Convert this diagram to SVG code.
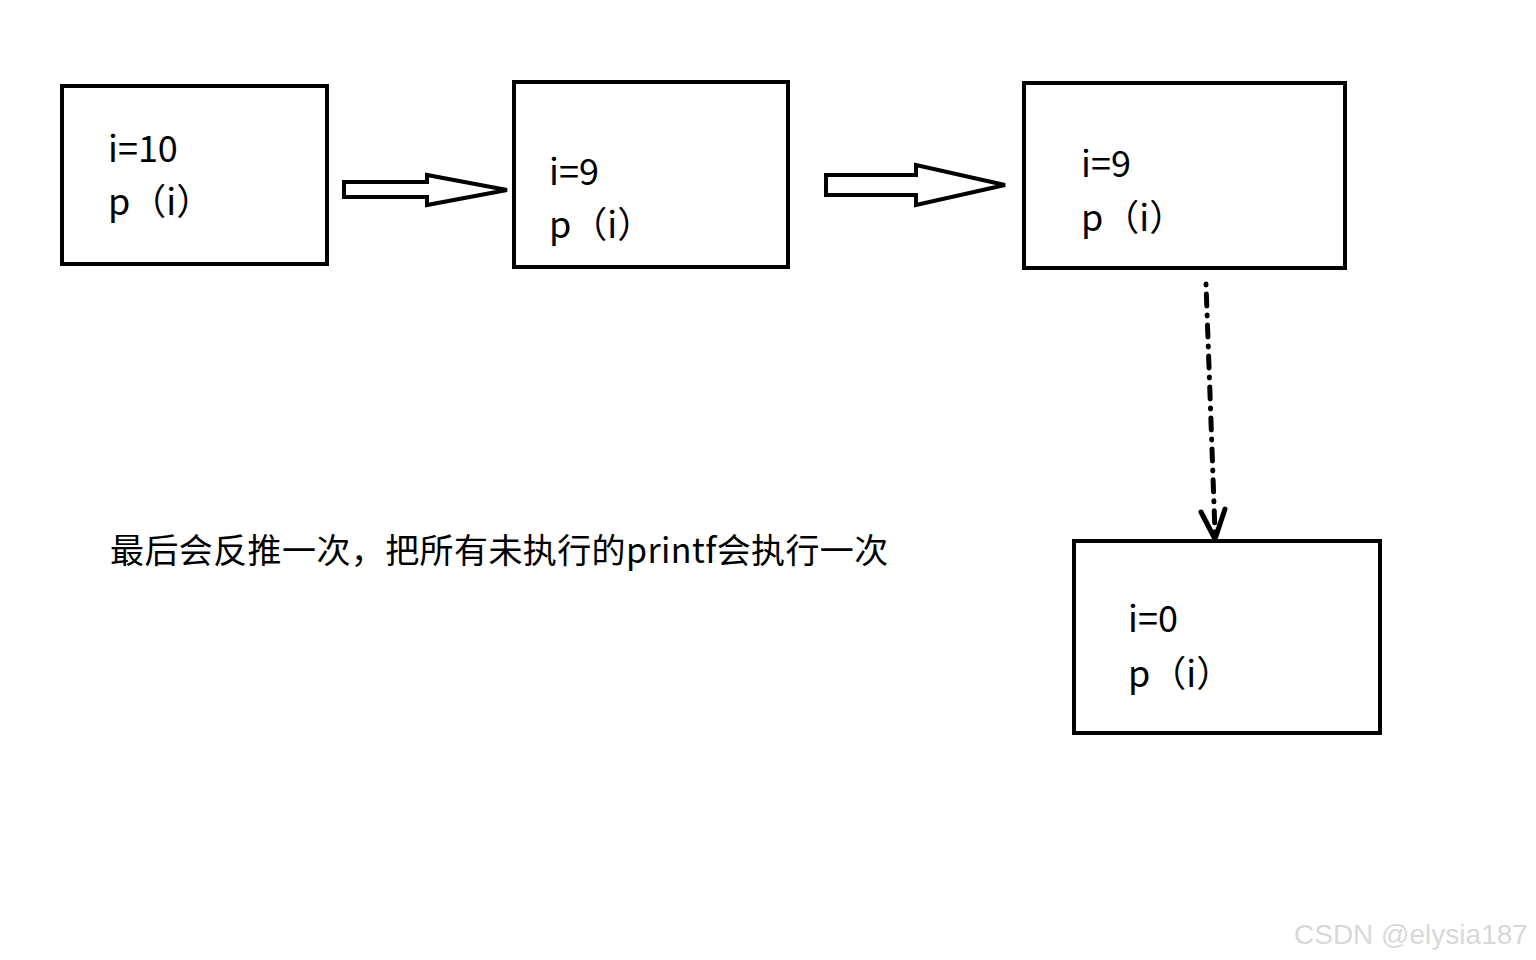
<svg xmlns="http://www.w3.org/2000/svg" width="1536" height="960" viewBox="0 0 1536 960">
<style>
.box{fill:#fff;stroke:#000;stroke-width:4}
.t{font-family:"Noto Sans CJK SC","Noto Sans",sans-serif;font-size:36px;fill:#000}
.arr{fill:#fff;stroke:#000;stroke-width:4;stroke-linejoin:miter}
.dash{fill:none;stroke:#000;stroke-width:5;stroke-linecap:round}
</style>
<rect width="1536" height="960" fill="#fff"/>
<g id="connectors">
<polygon class="arr" points="344,182 427,182 427,175 507,190 427,205 427,197 344,197"/>
<polygon class="arr" points="826,175 916,175 916,165 1005,185 916,205 916,195 826,195"/>
<path class="dash" d="M1206,284 L1215,532" stroke-dasharray="1 9 12 9"/>
<path class="dash" d="M1201,512 L1215,539 L1225,509"/>
</g>
<g id="node1">
<rect class="box" x="62" y="86" width="265" height="178"/>
<text class="t" x="108" y="162">i=10</text>
<text class="t" x="108" y="215">p（i）</text>
</g>
<g id="node2">
<rect class="box" x="514" y="82" width="274" height="185"/>
<text class="t" x="549" y="185">i=9</text>
<text class="t" x="549" y="238">p（i）</text>
</g>
<g id="node3">
<rect class="box" x="1024" y="83" width="321" height="185"/>
<text class="t" x="1081" y="177">i=9</text>
<text class="t" x="1081" y="231">p（i）</text>
</g>
<g id="node4">
<rect class="box" x="1074" y="541" width="306" height="192"/>
<text class="t" x="1128" y="632">i=0</text>
<text class="t" x="1128" y="687">p（i）</text>
</g>
<g id="note">
<text x="110" y="563" style="font-family:'Noto Sans CJK SC',sans-serif;font-size:34px;letter-spacing:0.4px;fill:#000">最后会反推一次，把所有未执行的printf会执行一次</text>
</g>
<text x="1294" y="944" style="font-family:'Liberation Sans',Arial,sans-serif;font-size:28px;fill:#d8d8d8">CSDN @elysia187</text>
</svg>
